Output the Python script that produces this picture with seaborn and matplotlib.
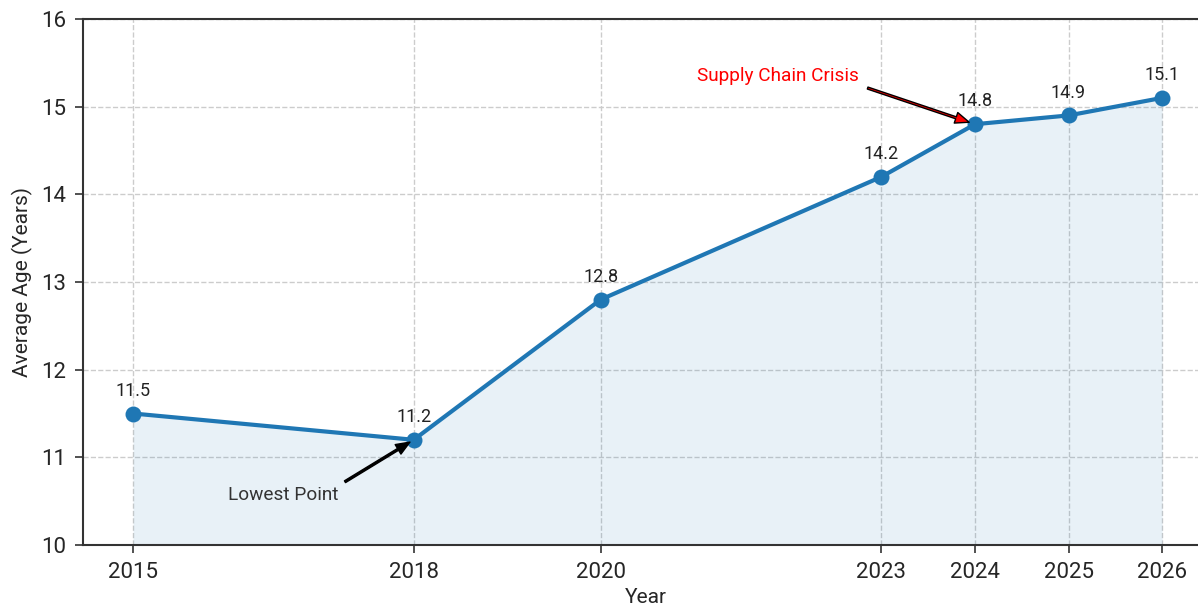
import matplotlib
matplotlib.use("Agg")
import matplotlib.pyplot as plt
import seaborn as sns
import pandas as pd

years = [2015, 2018, 2020, 2023, 2024, 2025, 2026]
avg_age = [11.5, 11.2, 12.8, 14.2, 14.8, 14.9, 15.1]
y_ticks = [10, 11, 12, 13, 14, 15, 16]

df = pd.DataFrame({"Year": years, "Average Age (Years)": avg_age})

sns.set_style("whitegrid")
plt.rcParams['font.family'] = ['Roboto', 'DejaVu Sans']

color = "#1f77b4"
fig = plt.figure(figsize=(11.98, 6.06), dpi=100)
x0, x1 = 2014.465, 2026.5
ax = fig.add_axes([83/1198, 61/606, (x1 - x0) * 93.55 / 1198, (545-19)/606])

sns.lineplot(data=df, x="Year", y="Average Age (Years)", ax=ax, color=color,
             linewidth=3, marker="o", markersize=11.5, markeredgewidth=0)
ax.fill_between(df["Year"], df["Average Age (Years)"], 10, color=color, alpha=0.1, linewidth=0)

for x, y in zip(years, avg_age):
    ax.annotate(f"{y}", (x, y), xytext=(0, 10), textcoords="offset points",
                ha="center", va="bottom", fontsize=13, color="#222222")

ax.annotate("Lowest Point", xy=(2018, 11.2), xytext=(2016.6, 10.57),
            ha="center", va="center", fontsize=13.7, color="#333333",
            arrowprops=dict(facecolor="black", edgecolor="black", shrink=0.05,
                            width=1.5, headwidth=8, headlength=10))
ax.annotate("Supply Chain Crisis", xy=(2024, 14.8), xytext=(2021.89, 15.35),
            ha="center", va="center", fontsize=13.7, color="red",
            arrowprops=dict(facecolor="red", edgecolor="black", shrink=0.05,
                            width=1.5, headwidth=8, headlength=10))

ax.set_xlim(x0, x1)
ax.set_ylim(10, 16)
ax.set_xticks(years)
ax.set_yticks(y_ticks)
ax.tick_params(axis="both", labelsize=16, length=6, width=1.2, color="#333333",
               direction="out", pad=6, bottom=True, left=True)
ax.grid(True, linestyle="--", color="#cccccc", linewidth=1)
for s in ax.spines.values():
    s.set_color("#333333")
    s.set_linewidth(1.5)
ax.set_xlabel("Year", fontsize=15, labelpad=4)
ax.set_ylabel("Average Age (Years)", fontsize=15, labelpad=6)

fig.savefig("out.png", dpi=100)
